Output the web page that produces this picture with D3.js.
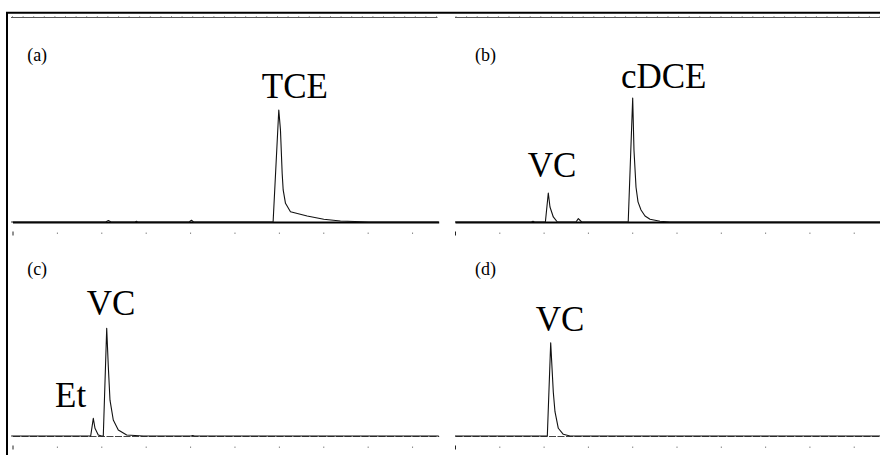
<!DOCTYPE html>
<html><head><meta charset="utf-8">
<script src="https://cdn.jsdelivr.net/npm/d3@7"></script>
<style>html,body{margin:0;padding:0;background:#fff;}svg{display:block;}</style>
</head><body>
<svg id="chart" width="880" height="455"></svg>
<script>
// ---- data (retention time in min, detector response in relative units) ----
const panelIds = ["a", "b", "c", "d"];
const aTime   = [-0.03, 2.10, 2.16, 2.22, 2.76, 2.79, 2.82, 3.98, 4.03, 4.08, 5.87, 5.998, 6.036, 6.074, 6.097, 6.149, 6.261, 6.637, 7.011, 7.387, 8.025, 9.6];
const aSignal = [0, 0, 1.3, 0, 0, 0.6, 0, 0, 1.6, 0, 0, 100, 82, 43.5, 28.6, 16.7, 9.2, 5.4, 2.4, 0.9, 0, 0];
const bTime   = [0, 1.72, 1.76, 1.80, 2.04, 2.106, 2.144, 2.219, 2.31, 2.73, 2.784, 2.86, 3.91, 4.011, 4.04, 4.086, 4.131, 4.199, 4.289, 4.402, 4.628, 4.853, 9.6];
const bSignal = [0, 0, 0.6, 0, 0, 25.9, 13.4, 4.5, 0, 0, 3.0, 0, 0, 110.7, 64, 31, 18, 10.7, 5.4, 2.4, 0.7, 0, 0];
const cTime   = [-0.03, 1.761, 1.82, 1.858, 1.932, 2.009, 2.045, 2.122, 2.158, 2.196, 2.27, 2.383, 2.572, 2.946, 4.02, 4.06, 4.10, 9.6];
const cSignal = [0, 0, 15.8, 6.9, 0.9, 0, 0, 96.2, 62, 32, 14.3, 5.4, 0.9, 0, 0, 0.5, 0, 0];
const dTime   = [0, 2.084, 2.16, 2.219, 2.257, 2.332, 2.445, 2.596, 9.6];
const dSignal = [0, 0, 83.3, 39, 21.7, 6.9, 1.5, 0, 0];
const axisTicks = [0, 1, 2, 3, 4, 5, 6, 7, 8, 9];
const panelLabels = ["(a)", "(b)", "(c)", "(d)"];
const peakNames = ["TCE", "VC", "cDCE", "Et", "VC", "VC"];
const peakPanel = ["a", "b", "b", "c", "c", "d"];
const peakLabelTime = [6.36, 2.19, 4.71, 1.31, 2.22, 2.37];
const peakLabelLevel = [110.7, 40.2, 119.6, 25.9, 108, 93.75];

// ---- layout ----
const svg = d3.select("#chart");
const serif = "'Liberation Serif','Times New Roman',serif";
const cols = [{r0: 12.5, r1: 438.7}, {r0: 455, r1: 880.3}];
const rows = [{base: 222}, {base: 436}];
const pxPerUnit = 1.12;
const series = {a: [aTime, aSignal], b: [bTime, bSignal], c: [cTime, cSignal], d: [dTime, dSignal]};

// outer frame (top and left edges)
svg.append("path").attr("d", "M7,455 V12.8 H880").attr("fill", "none").attr("stroke", "#000").attr("stroke-width", 2);

// top scale strip
const topScale = d3.scaleLinear().domain([0, 40]).range([12, 436]);
[[11, 437.5, 0], [455, 880, 443.5]].forEach(([x0, x1, off]) => {
  const g = svg.append("g").attr("transform", `translate(${off},17.5)`);
  const ax = d3.axisTop(topScale).tickValues(d3.range(0, 41)).tickSize(1.5).tickFormat("");
  g.call(ax);
  g.select(".domain").remove();
  g.selectAll(".tick line").attr("stroke", "#999");
  svg.append("line").attr("x1", x0).attr("x2", x1).attr("y1", 17.5).attr("y2", 17.5)
    .attr("stroke", "#555").attr("stroke-width", 1);
});

panelIds.forEach((id, i) => {
  const col = cols[i % 2], row = rows[Math.floor(i / 2)];
  const x = d3.scaleLinear().domain([0, 9.6]).range([col.r0, col.r1]);
  const y = d3.scaleLinear().domain([0, 100]).range([row.base, row.base - 100 * pxPerUnit]);
  const g = svg.append("g");

  // baseline drawn as axis domain
  const base = g.append("g").attr("transform", `translate(0,${row.base})`)
    .call(d3.axisBottom(x).tickValues([]).tickSizeOuter(0));
  base.select(".domain")
    .attr("stroke", i < 2 ? "#000" : "#444")
    .attr("stroke-width", i < 2 ? 1.8 : 1.1)
    .attr("stroke-dasharray", i < 2 ? null : "7,1.5");

  // tick marks under the panel
  const tg = g.append("g").attr("transform", `translate(0,${row.base + 10.5})`)
    .call(d3.axisBottom(x).tickValues(axisTicks).tickSize(1.5).tickFormat(""));
  tg.select(".domain").remove();
  tg.selectAll(".tick line").attr("stroke", "#888").attr("stroke-width", 1);
  tg.selectAll(".tick line").filter(d => d === 0).attr("stroke", "#222").attr("y1", -1).attr("y2", 3);

  // chromatogram trace
  const [tt, vv] = series[id];
  const pts = tt.map((t, k) => [t, vv[k]]);
  g.append("path").datum(pts)
    .attr("fill", "none").attr("stroke", "#111").attr("stroke-width", 1.1)
    .attr("stroke-linejoin", "round")
    .attr("d", d3.line().x(d => x(d[0])).y(d => y(d[1])));

  // panel label
  g.append("text").attr("x", x(i % 2 === 0 ? 0.33 : 0.45)).attr("y", y(143.8))
    .attr("font-family", serif).attr("font-size", 18).attr("fill", "#000")
    .text(panelLabels[i]);

  // peak labels
  peakNames.forEach((name, k) => {
    if (peakPanel[k] !== id) return;
    g.append("text").attr("x", x(peakLabelTime[k])).attr("y", y(peakLabelLevel[k]))
      .attr("text-anchor", "middle").attr("font-family", serif).attr("font-size", 35)
      .attr("fill", "#000").text(name);
  });
});
</script>
</body></html>
